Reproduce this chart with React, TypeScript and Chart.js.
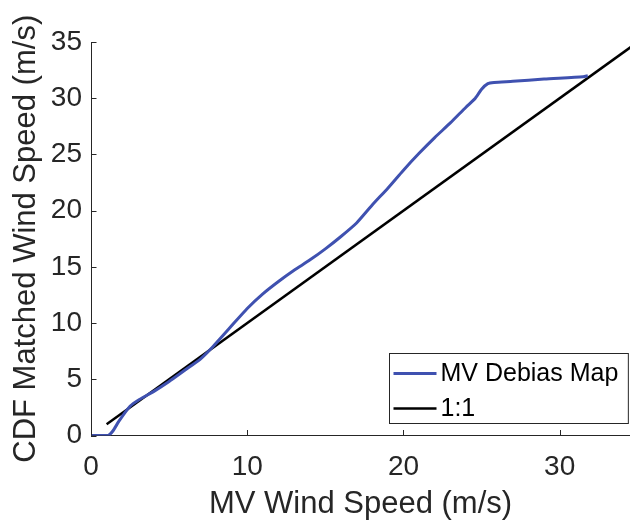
import React, { useEffect, useRef } from "react";
import { Chart, registerables } from "chart.js";

Chart.register(...registerables);

// ---- data ----
const debiasX = [0, 0.5, 1.1, 1.4, 1.8, 2.5, 3.1, 4, 5, 6, 7, 7.8, 8.9, 10, 11, 12, 13, 14, 15, 16, 17, 18, 19, 20, 21, 22, 23, 24, 24.6, 25.0, 25.4, 25.8, 27, 29, 31.5, 31.8];
const debiasY = [0, 0, 0, 0.4, 1.3, 2.6, 3.2, 3.9, 4.8, 5.8, 6.8, 7.9, 9.6, 11.3, 12.6, 13.7, 14.7, 15.6, 16.6, 17.7, 18.9, 20.5, 22.0, 23.6, 25.1, 26.5, 27.8, 29.2, 30.0, 30.8, 31.3, 31.4, 31.5, 31.7, 31.9, 32.0];
const oneToOneX = [1, 35];
const oneToOneY = [1, 35];
const xTicks = [0, 10, 20, 30];
const yTicks = [0, 5, 10, 15, 20, 25, 30, 35];
const seriesLabels = ["MV Debias Map", "1:1"];
const seriesColors = ["#3F51B0", "#000000"];
const xTitle = "MV Wind Speed (m/s)";
const yTitle = "CDF Matched Wind Speed (m/s)";

const FONT = "'Liberation Sans', Arial, Helvetica, sans-serif";
const AXIS_COLOR = "#262626";

const decorPlugin = {
  id: "decor",
  afterDraw(chart: any) {
    const ctx = chart.ctx as CanvasRenderingContext2D;
    const { left, right, top, bottom } = chart.chartArea;
    const xs = chart.scales.x;
    const ys = chart.scales.y;
    ctx.save();
    ctx.strokeStyle = AXIS_COLOR;
    ctx.lineWidth = 1;
    const tl = 5.5;
    xTicks.forEach((v) => {
      const px = Math.round(xs.getPixelForValue(v)) + 0.5;
      ctx.beginPath();
      ctx.moveTo(px, bottom);
      ctx.lineTo(px, bottom - tl);
      ctx.stroke();
    });
    yTicks.forEach((v) => {
      const py = Math.round(ys.getPixelForValue(v)) + 0.5;
      ctx.beginPath();
      ctx.moveTo(left, py);
      ctx.lineTo(left + tl, py);
      ctx.stroke();
    });

    // legend
    ctx.font = `25px ${FONT}`;
    const datasets = chart.data.datasets;
    let maxW = 0;
    datasets.forEach((d: any) => {
      maxW = Math.max(maxW, ctx.measureText(d.label).width);
    });
    const sampleLen = 43;
    const boxW = 4 + sampleLen + 4 + maxW + 10;
    const boxH = 70;
    const bx = Math.round(right - 2 - boxW) + 0.5;
    const by = Math.round(bottom - 12.5 - boxH) + 0.5;
    ctx.fillStyle = "#ffffff";
    ctx.fillRect(bx, by, boxW, boxH);
    ctx.strokeStyle = AXIS_COLOR;
    ctx.lineWidth = 1;
    ctx.strokeRect(bx, by, boxW, boxH);
    datasets.forEach((d: any, i: number) => {
      const cy = by + 20 + i * 35;
      ctx.strokeStyle = d.borderColor;
      ctx.lineWidth = d.borderWidth;
      ctx.beginPath();
      ctx.moveTo(bx + 4, cy);
      ctx.lineTo(bx + 4 + sampleLen, cy);
      ctx.stroke();
      ctx.fillStyle = "#000000";
      ctx.textAlign = "left";
      ctx.textBaseline = "middle";
      ctx.fillText(d.label, bx + 4 + sampleLen + 4, cy + 1);
    });
    ctx.restore();
  },
};

export default function App() {
  const canvasRef = useRef<HTMLCanvasElement | null>(null);

  useEffect(() => {
    const canvas = canvasRef.current;
    if (!canvas) return;
    const chart = new Chart(canvas, {
      type: "scatter",
      data: {
        datasets: [
          {
            label: seriesLabels[0],
            data: debiasX.map((x, i) => ({ x, y: debiasY[i] })),
            showLine: true,
            borderColor: seriesColors[0],
            backgroundColor: seriesColors[0],
            borderWidth: 3,
            pointRadius: 0,
            tension: 0.2,
          },
          {
            label: seriesLabels[1],
            data: oneToOneX.map((x, i) => ({ x, y: oneToOneY[i] })),
            showLine: true,
            borderColor: seriesColors[1],
            backgroundColor: seriesColors[1],
            borderWidth: 2.5,
            pointRadius: 0,
          },
        ],
      },
      options: {
        responsive: false,
        animation: false,
        events: [],
        layout: { padding: { top: 42, left: 0, right: 0, bottom: 0 } },
        plugins: {
          legend: { display: false },
          tooltip: { enabled: false },
        },
        scales: {
          x: {
            type: "linear",
            min: 0,
            max: 34.5,
            afterBuildTicks: (scale: any) => {
              scale.ticks = xTicks.map((v) => ({ value: v }));
            },
            afterFit: (scale: any) => {
              scale.height = 86.5;
            },
            grid: { display: false, drawTicks: false },
            border: { display: true, color: AXIS_COLOR, width: 1 },
            ticks: {
              color: AXIS_COLOR,
              font: { family: FONT, size: 28 },
              padding: 15,
              maxRotation: 0,
              autoSkip: false,
            },
            title: {
              display: true,
              text: xTitle,
              color: AXIS_COLOR,
              font: { family: FONT, size: 31, lineHeight: 1 },
              padding: { top: 0, bottom: 2 },
            },
          },
          y: {
            type: "linear",
            min: 0,
            max: 35,
            afterBuildTicks: (scale: any) => {
              scale.ticks = yTicks.map((v) => ({ value: v }));
            },
            afterFit: (scale: any) => {
              scale.width = 91;
            },
            grid: { display: false, drawTicks: false },
            border: { display: true, color: AXIS_COLOR, width: 1 },
            ticks: {
              color: AXIS_COLOR,
              font: { family: FONT, size: 28 },
              padding: 9,
              autoSkip: false,
            },
            title: {
              display: true,
              text: yTitle,
              color: AXIS_COLOR,
              font: { family: FONT, size: 31, lineHeight: 1 },
              padding: { top: 11, bottom: 0 },
            },
          },
        },
      },
      plugins: [decorPlugin],
    });
    return () => chart.destroy();
  }, []);

  return (
    <div style={{ position: "absolute", left: 0, top: 0, width: 630, height: 522, background: "#ffffff" }}>
      <canvas ref={canvasRef} width={630} height={522} style={{ display: "block" }} />
    </div>
  );
}
